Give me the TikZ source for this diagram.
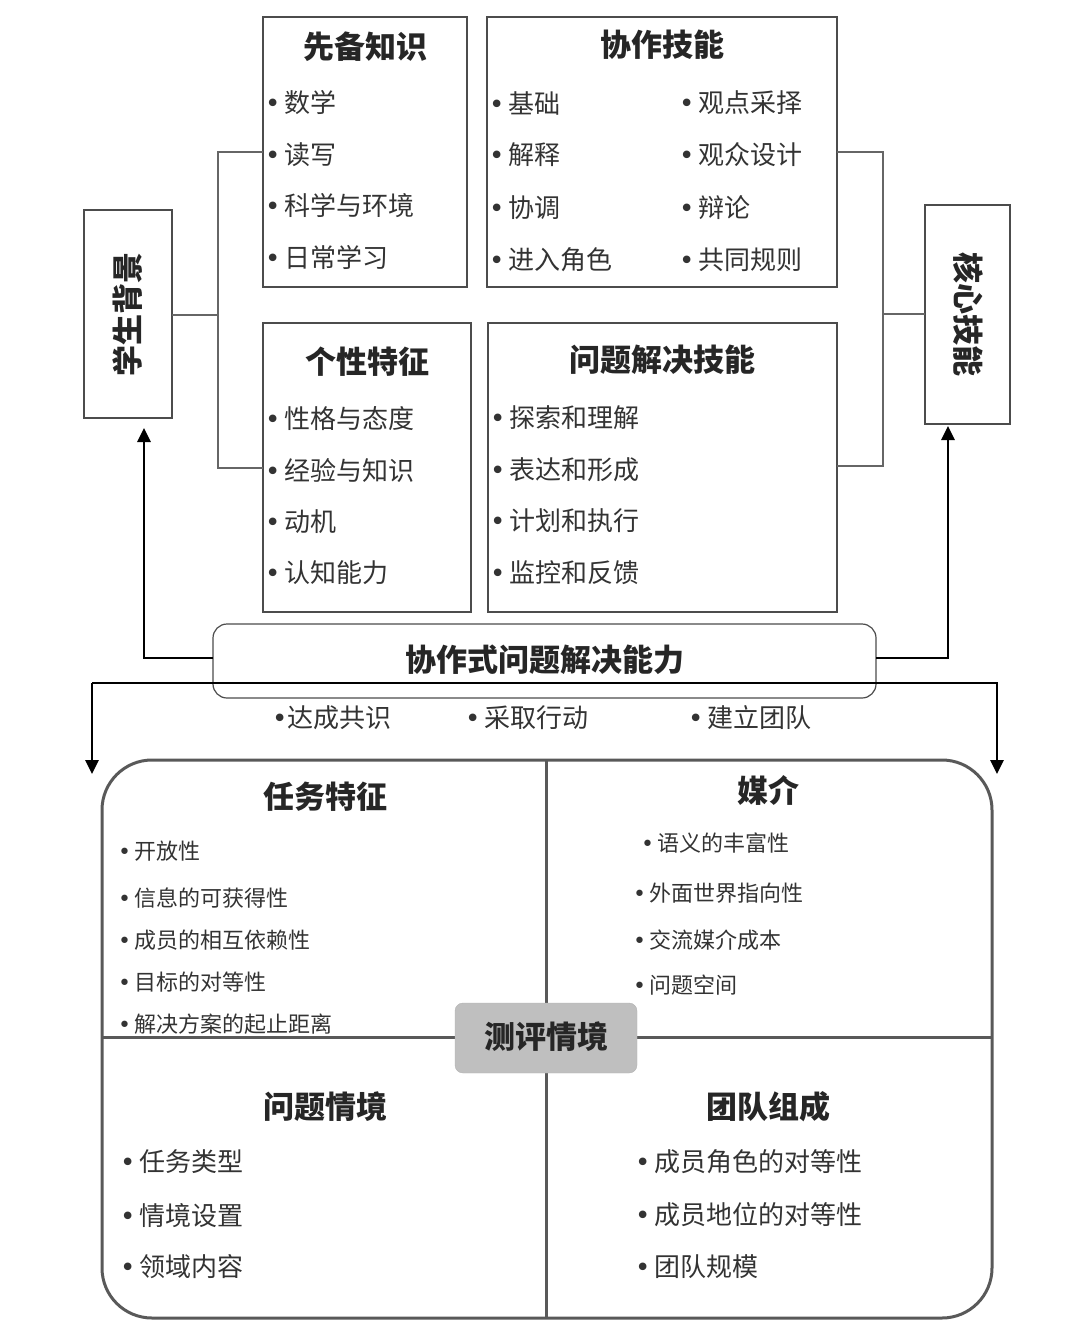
\documentclass[tikz,border=0pt]{standalone}
\usepackage{fontspec}
\setmainfont{Noto Sans CJK SC}
\newfontfamily\djv{DejaVu Sans}
\newcommand{\bl}{{\djv •}}
\usetikzlibrary{arrows.meta}
\begin{document}
\begin{tikzpicture}[x=1pt,y=-1pt,
  box/.style={draw=black!70,line width=1.2pt},
  ln/.style={draw=black!60,line width=2pt},
  arr/.style={draw=black,line width=2.8pt,-{Triangle[length=14pt,width=13pt]}},
  ttl/.style={font=\fontsize{31}{33}\selectfont\bfseries,text=black!85,inner sep=0},
  itm/.style={font=\fontsize{26}{28}\selectfont,text=black!80,anchor=west,inner sep=0},
  sm/.style={font=\fontsize{22}{24}\selectfont,text=black!80,anchor=west,inner sep=0}]
\useasboundingbox (0,0) rectangle (1080,1334);
% top boxes
\draw[box] (263,17) rectangle (467,287);
\node[ttl] (t1) at (365,47) {先备知识};
\foreach \t/\y in {数学/103,读写/155,科学与环境/206,日常学习/257}
  \node[itm] at (265,\y) {\bl{}\,\t};
\draw[box] (487,17) rectangle (837,287);
\node[ttl] (t2) at (662,45) {协作技能};
\foreach \t/\y in {基础/103,解释/155,协调/208,进入角色/260}
  \node[itm] at (489,\y) {\bl{}\,\t};
\foreach \t/\y in {观点采择/103,观众设计/155,辩论/208,共同规则/260}
  \node[itm] at (679,\y) {\bl{}\,\t};
\draw[box] (263,323) rectangle (471,612);
\node[ttl] (t3) at (367,362) {个性特征};
\foreach \t/\y in {性格与态度/419,经验与知识/471,动机/522,认知能力/573}
  \node[itm] at (265,\y) {\bl{}\,\t};
\draw[box] (488,323) rectangle (837,612);
\node[ttl] (t4) at (662,360) {问题解决技能};
\foreach \t/\y in {探索和理解/418,表达和形成/470,计划和执行/521,监控和反馈/573}
  \node[itm] at (490,\y) {\bl{}\,\t};
% side boxes
\draw[box] (84,210) rectangle (172,418);
\node[ttl,rotate=90] (sb) at (128,314) {学生背景};
\draw[box] (925,205) rectangle (1010,424);
\node[ttl,rotate=-90] (hx) at (968,314) {核心技能};
% connectors
\draw[ln] (263,152) -- (218,152) -- (218,468) -- (263,468);
\draw[ln] (172,315) -- (218,315);
\draw[ln] (837,152) -- (883,152) -- (883,466) -- (837,466);
\draw[ln] (925,314) -- (883,314);
% central box
\draw[box,rounded corners=14pt,fill=white] (213,624) rectangle (876,698);
\node[ttl] (c) at (545,660) {协作式问题解决能力};
\draw[arr] (213,658) -- (144,658) -- (144,428);
\draw[arr] (876,658) -- (948,658) -- (948,426);
\draw[arr] (92,683) -- (997,683) -- (997,774);
\draw[arr] (92,683) -- (92,774);
\node[itm] at (272,718) {\bl{}达成共识};
\node[itm] at (465,718) {\bl{}\,采取行动};
\node[itm] at (688,718) {\bl{}\,建立团队};
% big box
\draw[draw=black!65,line width=3pt,rounded corners=50pt] (102,760) rectangle (992,1318);
\draw[draw=black!65,line width=3pt] (546,760) -- (546,1318);
\draw[draw=black!65,line width=3pt] (102,1037) -- (992,1037);
\node[ttl] at (325,797) {任务特征};
\foreach \t/\y in {开放性/851,信息的可获得性/898,成员的相互依赖性/940,目标的对等性/982,解决方案的起止距离/1024}
  \node[sm] at (118,\y) {\bl{}\,\t};
\node[ttl] at (768,790) {媒介};
\node[sm] at (641,843) {\bl{}\,语义的丰富性};
\foreach \t/\y in {外面世界指向性/893,交流媒介成本/940,问题空间/985}
  \node[sm] at (633,\y) {\bl{}\,\t};
\node[ttl] at (325,1107) {问题情境};
\foreach \t/\y in {任务类型/1162,情境设置/1216,领域内容/1267}
  \node[itm] at (120,\y) {\bl{}\,\t};
\node[ttl] at (768,1107) {团队组成};
\foreach \t/\y in {成员角色的对等性/1162,成员地位的对等性/1215,团队规模/1267}
  \node[itm] at (635,\y) {\bl{}\,\t};
\draw[draw=black!30,fill=black!25,rounded corners=8pt] (455,1003) rectangle (637,1073);
\node[ttl] (cp) at (546,1037) {测评情境};
\end{tikzpicture}
\end{document}
